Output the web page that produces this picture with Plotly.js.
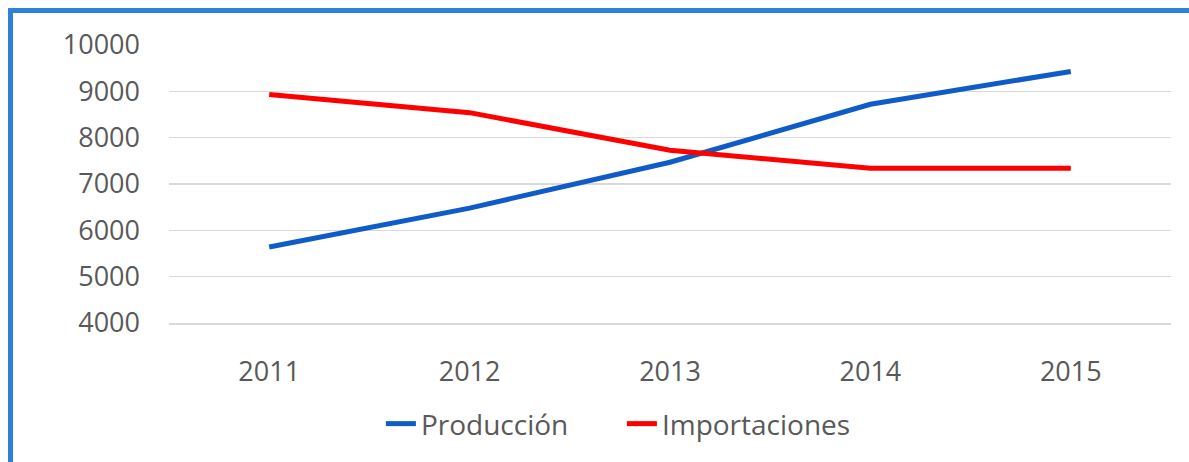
<!DOCTYPE html>
<html>
<head>
<meta charset="utf-8">
<script src="https://cdn.plot.ly/plotly-3.0.1.min.js"></script>
<style>
  html, body { margin: 0; padding: 0; background: #ffffff; overflow: hidden; }
  #chart { width: 1189px; height: 462px; position: absolute; left: 0; top: 0; }
  #frame { position: absolute; left: 8px; top: 8px; width: 1300px; height: 600px;
           border-top: 5px solid #2F80D8; border-left: 5px solid #2F80D8;
           pointer-events: none; z-index: 5; }
</style>
</head>
<body>
<div id="chart"></div>
<div id="frame"></div>
<script>
const years = ['2011', '2012', '2013', '2014', '2015'];
const produccion = [5640, 6480, 7470, 8720, 9430];
const importaciones = [8930, 8540, 7730, 7340, 7340];
const yTicks = [4000, 5000, 6000, 7000, 8000, 9000, 10000];

const textColor = '#595959';
const font = 'Open Sans, Liberation Sans, sans-serif';

const traces = [
  { type: 'scatter', mode: 'lines', name: 'Producción', x: years, y: produccion,
    line: { color: '#0F5CC9', width: 5 } },
  { type: 'scatter', mode: 'lines', name: 'Importaciones', x: years, y: importaciones,
    line: { color: '#FF0000', width: 5 } }
];

const layout = {
  width: 1189, height: 462,
  margin: { l: 169, r: 18, t: 45, b: 139 },
  paper_bgcolor: '#ffffff', plot_bgcolor: '#ffffff',
  font: { family: font, color: textColor, size: 27 },
  showlegend: true,
  legend: { orientation: 'h', x: 0.452, xanchor: 'center', y: -0.363, yanchor: 'middle',
            font: { family: font, color: textColor, size: 28 },
            entrywidth: 196, tracegroupgap: 0 },
  xaxis: { type: 'category', range: [-0.5, 4.5], showgrid: false, zeroline: false,
           showline: true, linecolor: '#D9D9D9', linewidth: 1.5,
           ticks: '', tickfont: { family: font, color: textColor, size: 27 },
           ticklabelstandoff: 24 },
  yaxis: { range: [4000, 10000], tickvals: yTicks, ticktext: yTicks.map(String),
           showgrid: true, gridcolor: '#D9D9D9', gridwidth: 1.5, zeroline: false,
           showline: false, ticks: '', ticklabelstandoff: 28,
           tickfont: { family: font, color: textColor, size: 27 } }
};

Plotly.newPlot('chart', traces, layout, { displayModeBar: false, staticPlot: true });
</script>
</body>
</html>
